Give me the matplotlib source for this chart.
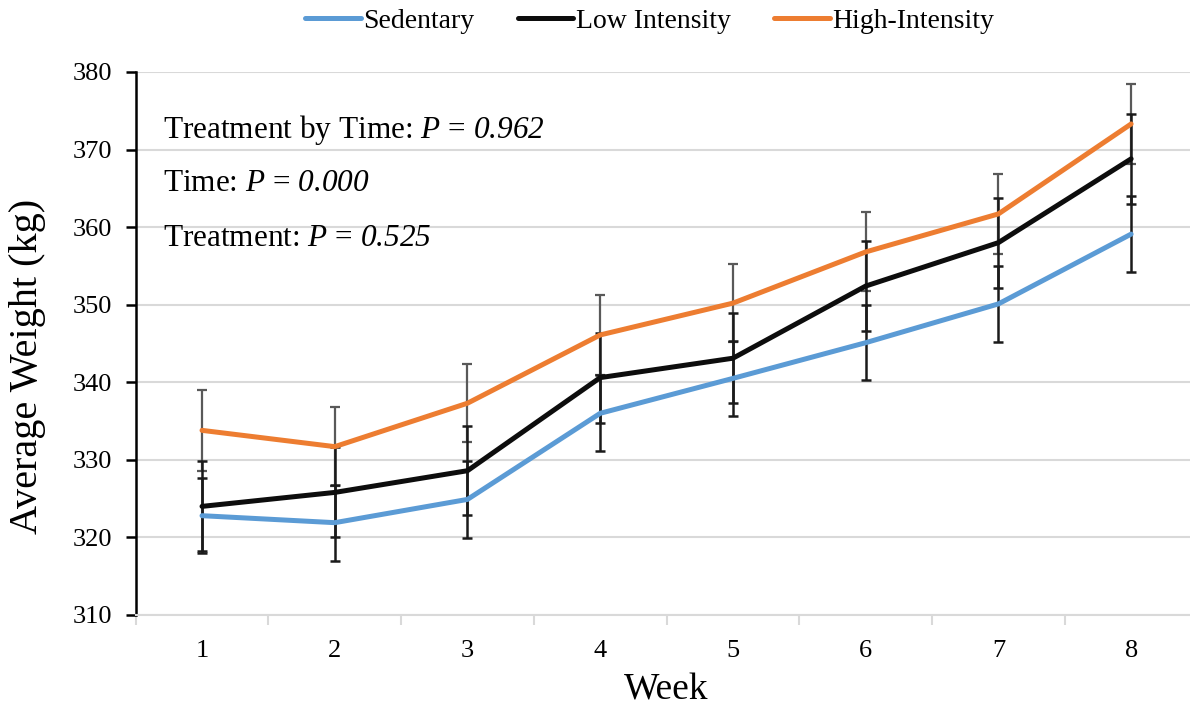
import matplotlib.pyplot as plt
from matplotlib.ticker import MultipleLocator

plt.rcParams['font.family'] = ['Liberation Serif', 'DejaVu Serif']
# the P-value parts are set in italic
plt.rcParams['mathtext.fontset'] = 'custom'
plt.rcParams['mathtext.rm'] = 'Liberation Serif:italic'
plt.rcParams['mathtext.it'] = 'Liberation Serif:italic'

weeks = [1, 2, 3, 4, 5, 6, 7, 8]

sedentary = [322.8, 321.9, 324.9, 336.0, 340.5, 345.1, 350.1, 359.1]
sedentary_err = [4.8, 4.9, 5.0, 4.9, 4.8, 4.8, 4.9, 4.9]

low = [324.0, 325.8, 328.6, 340.6, 343.1, 352.4, 358.0, 368.8]
low_err = [5.8, 5.8, 5.7, 5.8, 5.8, 5.8, 5.8, 5.8]

high = [333.8, 331.7, 337.3, 346.1, 350.2, 356.8, 361.7, 373.3]
high_err = [5.2, 5.1, 5.0, 5.1, 5.0, 5.1, 5.2, 5.1]

stats = ["Treatment by Time: $P$ = $0.962$",
         "Time: $P$ = $0.000$",
         "Treatment: $P$ = $0.525$"]

fig = plt.figure(figsize=(11.9, 7.09), dpi=100)
ax = fig.add_axes([0.114, 0.1326, 0.8923, 0.7659])

# error bars first so the lines sit over them
ax.errorbar(weeks, high, yerr=high_err, fmt='none', ecolor='#595959', elinewidth=1.6, capsize=3.6, capthick=1.6, zorder=2)
ax.errorbar(weeks, low, yerr=low_err, fmt='none', ecolor='#1a1a1a', elinewidth=1.8, capsize=3.6, capthick=1.8, zorder=2)
ax.errorbar(weeks, sedentary, yerr=sedentary_err, fmt='none', ecolor='#1a1a1a', elinewidth=1.8, capsize=3.6, capthick=1.8, zorder=2)

ax.plot(weeks, sedentary, color='#5b9bd5', lw=3.6, label='Sedentary', zorder=3, solid_capstyle='round')
ax.plot(weeks, low, color='#0d0d0d', lw=3.6, label='Low Intensity', zorder=3, solid_capstyle='round')
ax.plot(weeks, high, color='#ed7d31', lw=3.6, label='High-Intensity', zorder=3, solid_capstyle='round')

ax.set_xlim(0.5, 8.5)
ax.set_ylim(310, 380)
ax.set_xticks(weeks)
ax.xaxis.set_minor_locator(MultipleLocator(1, offset=0.5))
ax.yaxis.set_major_locator(MultipleLocator(10))
ax.grid(axis='y', color='#d9d9d9', lw=1.5, zorder=0)

for s in ['top', 'right']:
    ax.spines[s].set_visible(False)
ax.spines['left'].set_color('black')
ax.spines['left'].set_linewidth(1.8)
ax.spines['bottom'].set_color('#d9d9d9')
ax.spines['bottom'].set_linewidth(1.5)

ax.tick_params(axis='y', direction='out', length=7, width=1.8, color='black', labelsize=19, pad=10)
ax.tick_params(axis='x', which='major', length=0, labelsize=19, pad=18)
ax.tick_params(axis='x', which='minor', direction='out', length=7, width=1.5, color='#d9d9d9')

ax.set_xlabel('Week', fontsize=27, labelpad=8)
ax.set_ylabel('Average Weight (kg)', fontsize=29)
ax.yaxis.set_label_coords(-0.084, 0.457)

ypos = [0.893, 0.795, 0.693]
for t, yy in zip(stats, ypos):
    ax.text(0.026, yy, t, transform=ax.transAxes, fontsize=22.5,
            va='center', ha='left')

fig.legend(loc='center', bbox_to_anchor=(0.546, 0.970), ncol=3, frameon=False,
           fontsize=20, handlelength=2.0, handletextpad=0.1, columnspacing=1.55)

fig.savefig('out.png', dpi=100)
